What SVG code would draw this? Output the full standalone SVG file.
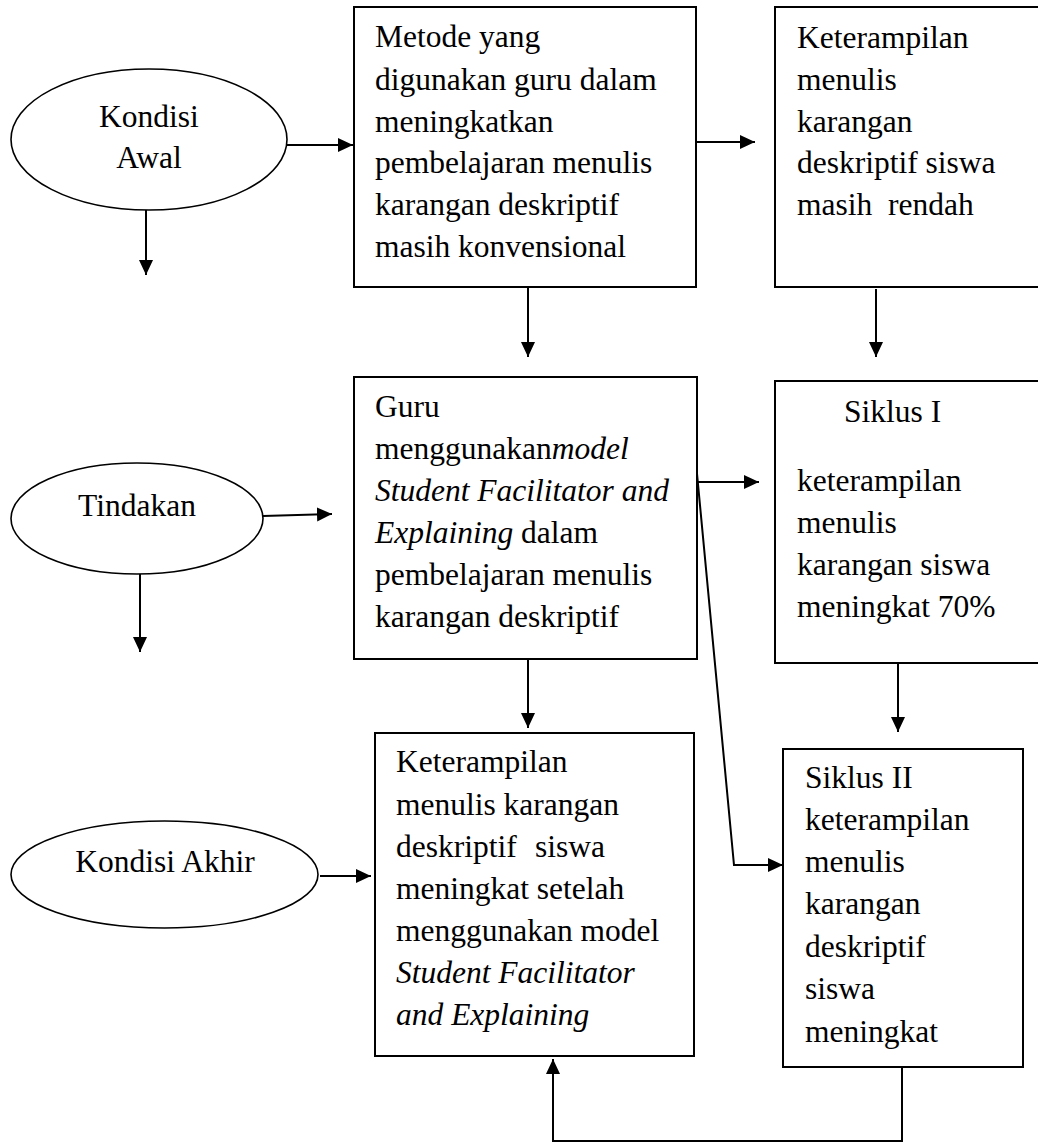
<svg xmlns="http://www.w3.org/2000/svg" width="1038" height="1142" viewBox="0 0 1038 1142">
<style>
.box{fill:#fff;stroke:#000;stroke-width:2}
.ell{fill:#fff;stroke:#000;stroke-width:1.6}
.t{font-family:"Liberation Serif","Times New Roman",serif;font-size:31.5px;fill:#000}
.i{font-style:italic}
.c{text-anchor:middle}
.ln{fill:none;stroke:#000;stroke-width:2}
.arr{fill:none;stroke:#000;stroke-width:2;marker-end:url(#ah)}
</style>
<defs>
<marker id="ah" markerUnits="userSpaceOnUse" markerWidth="16" markerHeight="16" refX="15" refY="7" orient="auto">
<path d="M0,0 L15,7 L0,14 z" fill="#000"/>
</marker>
</defs>
<rect width="1038" height="1142" fill="#fff"/>
<g id="connectors">
<line class="arr" x1="287" y1="145" x2="353" y2="145"/>
<line class="arr" x1="146" y1="210" x2="146" y2="275"/>
<line class="arr" x1="696" y1="142" x2="755" y2="142"/>
<line class="arr" x1="528" y1="287" x2="528" y2="357"/>
<line class="arr" x1="876" y1="289" x2="876" y2="357"/>
<line class="arr" x1="263" y1="516" x2="332" y2="514"/>
<line class="arr" x1="140" y1="574" x2="140" y2="652"/>
<line class="arr" x1="697" y1="482" x2="759" y2="482"/>
<polyline class="arr" points="696,463 734,865 783,865"/>
<line class="arr" x1="528" y1="659" x2="528" y2="728"/>
<line class="arr" x1="898" y1="663" x2="898" y2="732"/>
<line class="arr" x1="320" y1="876" x2="371" y2="876"/>
<polyline class="arr" points="902,1067 902,1141 553,1141 553,1059"/>
</g>
<g id="n-kondisi-awal">
<ellipse class="ell" cx="149" cy="139.5" rx="138" ry="70.5"/>
<text class="t c" x="149" y="127">Kondisi</text>
<text class="t c" x="149" y="168">Awal</text>
</g>
<g id="n-metode">
<rect class="box" x="354" y="7" width="342" height="280"/>
<text class="t" x="375" y="47">Metode yang</text>
<text class="t" x="375" y="90">digunakan guru dalam</text>
<text class="t" x="375" y="132">meningkatkan</text>
<text class="t" x="375" y="173">pembelajaran menulis</text>
<text class="t" x="375" y="215">karangan deskriptif</text>
<text class="t" x="375" y="257">masih konvensional</text>
</g>
<g id="n-rendah">
<rect class="box" x="775" y="7" width="266" height="280"/>
<text class="t" x="797" y="48">Keterampilan</text>
<text class="t" x="797" y="90">menulis</text>
<text class="t" x="797" y="132">karangan</text>
<text class="t" x="797" y="173">deskriptif siswa</text>
<text class="t" x="797" y="215" xml:space="preserve">masih  rendah</text>
</g>
<g id="n-tindakan">
<ellipse class="ell" cx="137" cy="518.5" rx="126" ry="55.5"/>
<text class="t c" x="137" y="516">Tindakan</text>
</g>
<g id="n-guru">
<rect class="box" x="354" y="377" width="343" height="282"/>
<text class="t" x="375" y="417">Guru</text>
<text class="t" x="375" y="459">menggunakan<tspan class="i">model</tspan></text>
<text class="t i" x="375" y="501">Student Facilitator and</text>
<text class="t" x="375" y="543"><tspan class="i">Explaining</tspan> dalam</text>
<text class="t" x="375" y="585">pembelajaran menulis</text>
<text class="t" x="375" y="627">karangan deskriptif</text>
</g>
<g id="n-siklus1">
<rect class="box" x="775" y="381" width="266" height="282"/>
<text class="t" x="844" y="422">Siklus I</text>
<text class="t" x="797" y="491">keterampilan</text>
<text class="t" x="797" y="533">menulis</text>
<text class="t" x="797" y="575">karangan siswa</text>
<text class="t" x="797" y="617">meningkat 70%</text>
</g>
<g id="n-kondisi-akhir">
<ellipse class="ell" cx="164.5" cy="874.5" rx="153.5" ry="53.5"/>
<text class="t c" x="165" y="872">Kondisi Akhir</text>
</g>
<g id="n-akhir">
<rect class="box" x="375" y="733" width="319" height="323"/>
<text class="t" x="396" y="772">Keterampilan</text>
<text class="t" x="396" y="815">menulis karangan</text>
<text class="t" x="396" y="857">deskriptif<tspan x="535">siswa</tspan></text>
<text class="t" x="396" y="899">meningkat setelah</text>
<text class="t" x="396" y="941">menggunakan model</text>
<text class="t i" x="396" y="983">Student Facilitator</text>
<text class="t i" x="396" y="1025">and Explaining</text>
</g>
<g id="n-siklus2">
<rect class="box" x="783" y="749" width="240" height="318"/>
<text class="t" x="805" y="788">Siklus II</text>
<text class="t" x="805" y="830">keterampilan</text>
<text class="t" x="805" y="872">menulis</text>
<text class="t" x="805" y="914">karangan</text>
<text class="t" x="805" y="957">deskriptif</text>
<text class="t" x="805" y="999">siswa</text>
<text class="t" x="805" y="1042">meningkat</text>
</g>
</svg>
